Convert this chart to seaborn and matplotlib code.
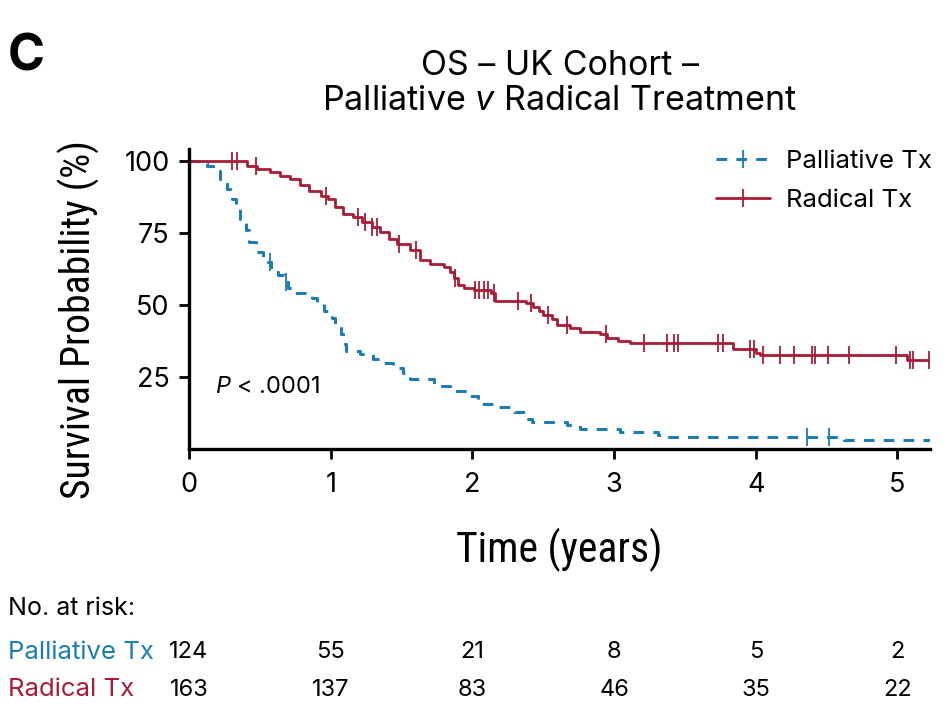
import numpy as np
import pandas as pd
import matplotlib
matplotlib.use('Agg')
import matplotlib.pyplot as plt
import matplotlib.transforms as mtransforms
from matplotlib.lines import Line2D
from matplotlib import font_manager
import seaborn as sns

# Kaplan-Meier step data (time in years, survival %)
rad_time = [0, 0.41, 0.48, 0.57, 0.64, 0.71, 0.78, 0.85, 0.93, 0.98, 1.03, 1.09, 1.16,
            1.22, 1.29, 1.35, 1.41, 1.47, 1.56, 1.63, 1.70, 1.80, 1.84, 1.87, 1.90, 1.94,
            2.01, 2.13, 2.16, 2.38, 2.43, 2.47, 2.50, 2.56, 2.60, 2.69, 2.76, 2.90, 2.95,
            3.03, 3.11, 3.84, 4.00, 4.03, 5.07, 5.23]
rad_surv = [100, 98.2, 97.0, 95.9, 94.8, 93.5, 91.7, 89.6, 87.9, 86.6, 83.8, 81.4, 80.3,
            78.6, 76.9, 75.2, 72.8, 71.1, 69.0, 65.6, 64.3, 63.2, 61.5, 59.2, 57.0, 55.8,
            55.2, 54.0, 51.4, 50.6, 49.4, 47.7, 46.6, 44.9, 43.1, 42.0, 40.6, 39.9, 38.5,
            37.4, 36.6, 34.5, 33.4, 32.5, 30.9, 30.9]
rad_cens = [0.30, 0.34, 0.47, 0.97, 1.19, 1.24, 1.29, 1.33, 1.48, 1.60, 1.88, 2.02, 2.05,
            2.08, 2.11, 2.15, 2.32, 2.41, 2.53, 2.67, 2.94, 3.21, 3.37, 3.42, 3.45, 3.73,
            3.77, 3.96, 3.99, 4.05, 4.17, 4.27, 4.40, 4.42, 4.51, 4.66, 4.99, 5.09, 5.11, 5.22]

pal_time = [0, 0.066, 0.125, 0.17, 0.22, 0.27, 0.30, 0.33, 0.36, 0.40, 0.42, 0.47, 0.52,
            0.56, 0.58, 0.63, 0.67, 0.70, 0.74, 0.87, 0.90, 0.95, 1.01, 1.03, 1.07, 1.09,
            1.11, 1.21, 1.30, 1.37, 1.44, 1.51, 1.56, 1.73, 1.84, 1.98, 2.04, 2.17, 2.29,
            2.38, 2.42, 2.67, 2.76, 3.04, 3.31, 3.37, 4.62, 5.23]
pal_surv = [100, 99.3, 98.2, 96.5, 93.6, 90.1, 86.7, 83.2, 79.8, 75.8, 71.8, 68.4, 66.6,
            64.9, 61.5, 60.3, 58.0, 55.7, 54.0, 52.3, 50.6, 47.7, 45.4, 43.1, 39.7, 36.3,
            34.0, 32.8, 31.1, 29.9, 28.2, 26.5, 24.2, 21.9, 20.2, 18.5, 15.6, 14.4, 12.7,
            10.4, 9.3, 8.2, 7.0, 5.8, 4.7, 4.1, 3.0, 3.0]
pal_cens = [0.57, 0.685, 4.36, 4.52]

risk_years = [0, 1, 2, 3, 4, 5]
risk_pal = [124, 55, 21, 8, 5, 2]
risk_rad = [163, 137, 83, 46, 35, 22]

blue = '#1B7DB3'
red = '#AA1B36'

sns.set_style('ticks')
names = {f.name for f in font_manager.fontManager.ttflist}
narrow = [n for n in ['Liberation Sans Narrow', 'Roboto Condensed', 'DejaVu Sans Condensed'] if n in names]
base = [n for n in ['Inter', 'Liberation Sans'] if n in names][0]
plt.rcParams['font.family'] = [base, 'DejaVu Sans']
plt.rcParams['mathtext.fontset'] = 'custom'
plt.rcParams['mathtext.it'] = base + ':italic'
plt.rcParams['mathtext.rm'] = base
for k in ['text.color', 'axes.labelcolor', 'xtick.color', 'ytick.color', 'axes.edgecolor']:
    plt.rcParams[k] = 'black'
cond = dict(family=narrow + ['DejaVu Sans'], stretch='condensed')


def step_value(times, surv, t):
    idx = np.searchsorted(times, t, side='right') - 1
    return np.asarray(surv)[idx]


fig = plt.figure(figsize=(9.5, 7.24), dpi=100)
ax = fig.add_axes([0.199, 0.380, 0.780, 0.414])

df_pal = pd.DataFrame({'t': pal_time, 's': pal_surv})
df_rad = pd.DataFrame({'t': rad_time, 's': rad_surv})

sns.lineplot(data=df_pal, x='t', y='s', ax=ax, color=blue, lw=2.2, estimator=None, sort=False,
             drawstyle='steps-post', linestyle=(0, (3.5, 3)))
sns.lineplot(data=df_rad, x='t', y='s', ax=ax, color=red, lw=2.0, estimator=None, sort=False,
             drawstyle='steps-post')

cens_pal = pd.DataFrame({'t': pal_cens, 's': step_value(pal_time, pal_surv, pal_cens)})
cens_rad = pd.DataFrame({'t': rad_cens, 's': step_value(rad_time, rad_surv, rad_cens)})
sns.scatterplot(data=cens_pal, x='t', y='s', ax=ax, marker='|', s=180, color=blue, linewidth=1.3)
sns.scatterplot(data=cens_rad, x='t', y='s', ax=ax, marker='|', s=180, color=red, linewidth=1.3)

ax.set_xlim(0, 5.23)
ax.set_ylim(0, 104)
ax.set_xticks(risk_years)
ax.set_yticks([25, 50, 75, 100])
ax.tick_params(axis='both', labelsize=19.5, width=2, length=7, direction='out')
ax.tick_params(axis='x', pad=10)
ax.tick_params(axis='y', pad=7)
for sp in ['left', 'bottom']:
    ax.spines[sp].set_linewidth(2.4)
sns.despine(ax=ax)

ax.set_xlabel('Time (years)', fontsize=30, labelpad=21, **cond)
ax.set_ylabel('Survival Probability (%)', fontsize=28.5, **cond)
ax.yaxis.set_label_coords(-0.12, 0.43)
ax.set_title('OS \u2013 UK Cohort \u2013\nPalliative $\\mathit{v}$ Radical Treatment',
             fontsize=24.5, pad=28, linespacing=1.15)

ax.text(0.035, 0.205, '$\\mathit{P}$ < .0001', transform=ax.transAxes, fontsize=17,
        va='center', ha='left')

handles = [Line2D([0], [0], color=blue, lw=2.2, linestyle=(0, (3.5, 3)), marker='|',
                  markersize=13, markeredgewidth=1.3),
           Line2D([0], [0], color=red, lw=2.0, marker='|', markersize=13, markeredgewidth=1.3)]
ax.legend(handles, ['Palliative Tx', 'Radical Tx'], loc='upper right', frameon=False,
          fontsize=18.5, handlelength=2.1, handletextpad=0.6, borderaxespad=0.0,
          labelspacing=0.6, bbox_to_anchor=(1.016, 1.03))

fig.text(0.008, 0.921, 'C', fontsize=36, fontweight='bold', va='center', ha='left')

# number at risk table
trans = mtransforms.blended_transform_factory(ax.transData, fig.transFigure)
fig.text(0.008, 0.160, 'No. at risk:', fontsize=18, va='center')
fig.text(0.008, 0.099, 'Palliative Tx', fontsize=18.5, va='center', color=blue)
fig.text(0.008, 0.047, 'Radical Tx', fontsize=18.5, va='center', color=red)
for yr, a, b in zip(risk_years, risk_pal, risk_rad):
    ax.text(yr, 0.099, str(a), transform=trans, fontsize=17, ha='center', va='center')
    ax.text(yr, 0.047, str(b), transform=trans, fontsize=17, ha='center', va='center')

fig.savefig('out.png', dpi=100)
